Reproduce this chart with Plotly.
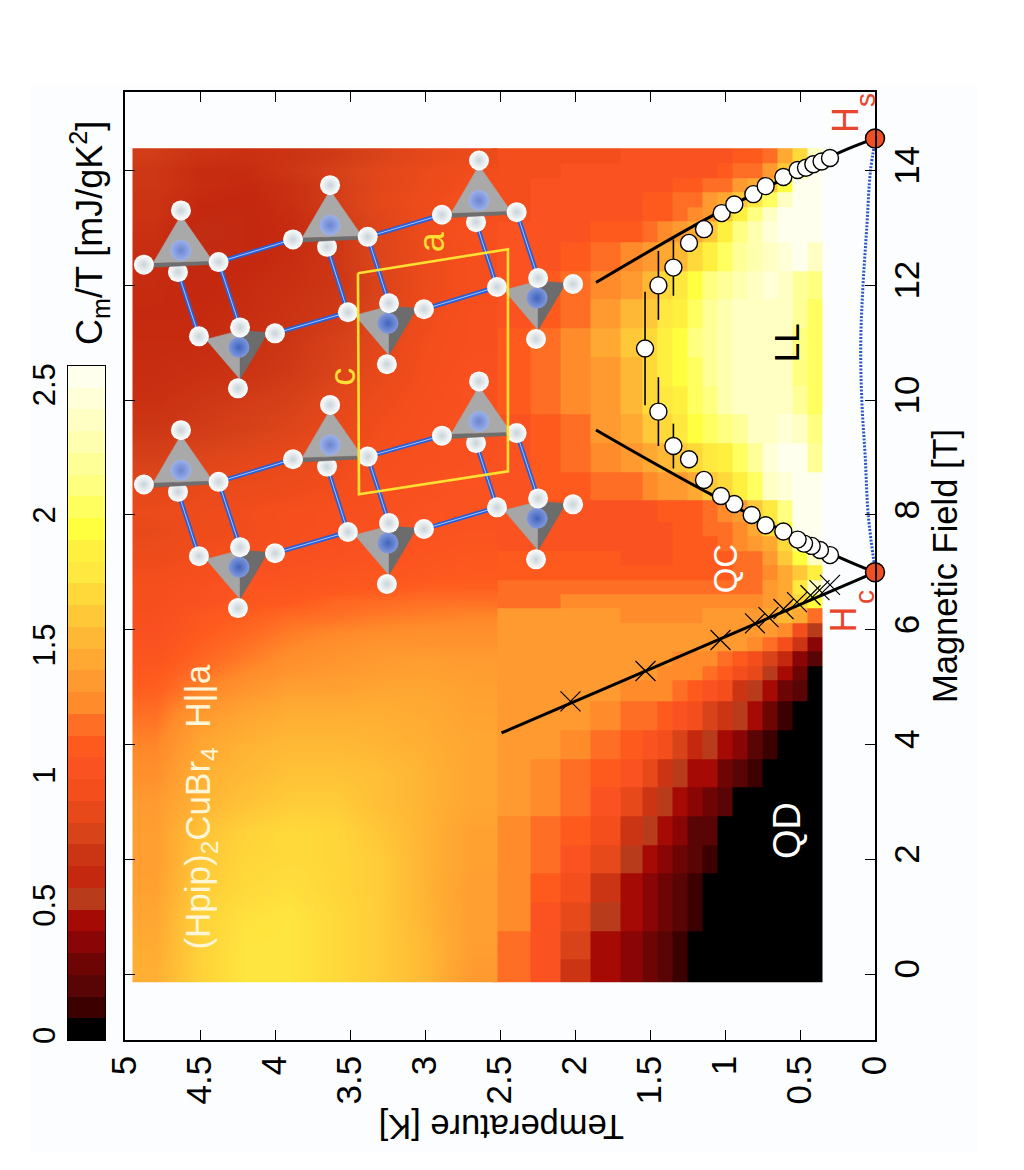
import plotly.graph_objects as go

# ---------- heat map data ----------
T_EDGES = [0.35,0.45,0.55,0.65,0.75,0.85,0.95,1.05,1.15,1.25,1.35,1.45,1.55,1.7,1.9,2.1,2.3,2.55,2.85,3.15,3.45,3.75,4.05,4.35,4.65,4.95]
F_EDGES = [-0.14,0.25,0.75,1.25,1.75,2.25,2.75,3.25,3.75,4.25,4.75,5.12,5.37,5.62,5.87,6.12,6.37,6.62,6.87,7.12,7.37,7.62,7.87,8.25,8.75,9.25,9.75,10.25,10.75,11.25,11.75,12.25,12.75,13.12,13.37,13.62,13.87,14.12,14.39]
# C/T in hundredths of mJ/gK^2, one row per field step, one column per temperature step
CM_ROWS = [
[0,0,0,0,0,0,0,0,0,10,22,30,40,45,75,105,125,138,155,165,172,178,178,168,150],
[0,0,0,0,0,0,0,0,5,12,22,32,40,50,78,105,125,140,155,165,172,178,178,168,148],
[0,0,0,0,0,0,0,0,10,20,28,35,42,55,85,108,128,140,153,165,172,178,176,168,145],
[0,0,0,0,0,0,0,5,12,22,30,38,45,68,95,112,130,140,152,165,170,175,172,165,142],
[0,0,0,0,0,0,0,10,18,28,35,42,52,85,105,118,130,142,152,165,170,172,170,162,140],
[0,0,0,0,0,0,8,18,25,35,42,52,70,100,112,122,132,142,152,162,170,172,168,160,140],
[0,0,0,0,0,8,18,28,38,45,55,72,90,108,118,128,135,145,152,158,165,165,160,152,138],
[0,0,0,0,10,22,32,42,50,55,72,90,105,115,125,132,138,145,152,158,160,160,155,150,132],
[0,0,0,10,22,35,42,52,65,80,95,105,115,125,132,135,140,145,150,153,155,155,152,145,128],
[0,0,12,30,42,52,68,80,92,105,110,118,125,132,135,138,140,143,148,150,150,150,145,138,122],
[0,18,32,48,58,75,92,105,112,122,128,130,132,135,138,140,142,142,145,145,142,142,135,128,115],
[8,28,48,56,85,100,110,118,128,130,132,135,135,138,140,140,140,140,142,140,138,135,130,122,112],
[18,40,60,82,100,115,122,128,130,132,135,135,138,138,140,140,140,138,140,138,135,132,125,118,108],
[35,75,100,120,130,135,135,135,135,135,135,135,135,138,140,140,140,135,135,135,132,128,122,115,105],
[55,100,130,142,142,140,140,138,135,135,135,135,135,138,142,142,140,132,132,130,128,125,118,112,102],
[120,150,155,145,140,138,136,134,132,130,130,130,130,134,136,136,134,128,126,125,122,120,115,110,100],
[200,175,150,135,133,132,130,128,128,128,128,126,126,128,126,125,124,122,122,120,118,112,108,104,98],
[240,180,145,135,125,125,122,120,118,118,118,118,118,118,118,118,118,115,115,112,110,108,108,102,98],
[190,165,145,130,122,118,115,112,110,110,110,110,112,112,112,112,112,112,110,108,108,105,102,98,95],
[240,200,160,135,125,118,114,112,110,110,108,108,108,110,110,110,110,110,108,106,104,102,98,96,92],
[260,215,175,150,135,128,120,115,112,110,108,108,108,108,108,108,108,108,106,104,102,100,96,94,90],
[260,255,195,170,145,132,125,118,112,110,108,108,108,108,108,108,108,106,105,102,100,98,94,92,88],
[260,255,210,180,165,140,130,122,115,112,110,108,108,108,108,108,108,105,105,100,100,98,95,92,90],
[260,255,245,240,205,190,175,160,148,140,135,128,125,120,115,110,108,105,102,100,95,92,90,88,85],
[225,255,255,245,225,205,190,182,175,160,155,145,135,128,120,112,108,102,100,98,92,88,85,82,78],
[210,240,245,240,235,225,215,205,195,180,175,160,148,135,125,115,108,102,100,95,88,82,78,75,72],
[205,220,240,240,240,235,230,215,205,190,180,170,155,140,128,118,110,102,98,92,85,78,75,72,68],
[205,215,235,240,240,240,232,220,208,195,185,172,158,142,130,120,110,102,96,88,80,74,70,68,66],
[205,215,235,240,240,238,232,222,210,198,185,172,160,145,130,120,112,100,95,85,78,72,68,65,65],
[208,218,238,242,240,238,230,218,205,190,178,165,152,138,125,115,108,100,92,82,74,70,66,64,64],
[215,225,240,245,240,232,225,210,200,180,168,155,142,130,120,110,105,98,90,80,72,68,65,62,65],
[240,255,250,240,232,220,205,190,170,155,145,135,128,118,110,105,102,98,90,82,72,66,62,62,66],
[260,260,260,250,232,210,190,165,145,135,128,120,115,110,108,105,102,100,92,82,72,65,62,60,68],
[260,260,260,240,210,185,160,140,128,120,115,110,108,106,105,102,100,98,92,84,75,66,62,62,70],
[260,260,240,205,178,160,148,135,125,118,115,110,108,105,105,102,100,98,92,86,76,68,62,64,70],
[260,260,200,165,145,135,125,118,112,110,108,108,106,105,104,102,100,96,90,84,76,68,64,66,72],
[260,215,165,140,125,118,112,108,108,108,106,106,105,104,102,100,98,95,90,85,78,72,65,65,72],
[240,175,145,125,115,110,108,106,105,105,104,102,102,100,98,96,92,90,86,80,74,70,68,70,75],
]
# colour bands of the colour bar, bottom to top
BANDS = ["#000000","#3c0000","#5a0505","#6e0505","#8a0505","#a50a05","#b83c1c","#c4280f","#cc3514","#d9431a",
         "#e8491a","#f44e1c","#fa5220","#fe5a1e","#ff6e24","#ff8b2a","#ff9a30","#ffa832","#ffb835","#ffc838",
         "#ffd83a","#ffe840","#fff040","#ffff40","#ffff60","#ffff80","#ffff98","#ffffb0","#ffffc4","#ffffd8","#ffffee"]
CB_TOP = 2.59
SMOOTH_FROM = 17   # temperature columns from this index on are drawn with smoothed cells
SEAM_OVERLAP = 0.03

# ---------- phase boundaries ----------
CROSS_T = [2.03,1.53,1.03,0.80,0.71,0.61,0.52,0.43,0.37,0.30]
CROSS_F = [4.75,5.28,5.82,6.11,6.22,6.36,6.48,6.60,6.69,6.78]
LINE_HC_T = [2.49,0.0]
LINE_HC_F = [4.20,7.0]
LEFT_T = [1.86,1.08,0.23,0.0]
LEFT_F = [9.48,8.34,7.25,7.0]
RIGHT_T = [1.86,1.08,0.25,0.0]
RIGHT_F = [12.05,13.22,14.30,14.56]
CIRC_T = [0.30,0.367,0.422,0.473,0.516,0.611,0.729,0.822,0.938,1.027,1.14,1.24,1.344,1.444,1.533,1.444,1.344,1.24,1.14,1.022,0.938,0.811,0.729,0.611,0.516,0.46,0.411,0.356,0.30]
CIRC_F = [7.30,7.39,7.46,7.50,7.57,7.71,7.82,8.0,8.19,8.33,8.61,8.97,9.2,9.8,10.9,12.0,12.31,12.74,12.98,13.26,13.41,13.59,13.73,13.89,14.01,14.05,14.11,14.16,14.22]
CIRC_ERR = [0,0,0,0,0,0,0,0,0,0,0,0,0.39,0.6,0.99,0.6,0.49,0,0,0,0,0,0,0,0,0,0,0,0]
DOME_T = [0.0,0.045,0.065,0.088,0.095,0.08,0.055,0.03,0.0]
DOME_F = [7.05,8,9,10,11,12,13,14,14.5]
QCP_T = [0.0,0.0]
QCP_F = [7.0,14.56]

# ---------- crystal inset (temperature, field coordinates) ----------
T1_T = [4.627,3.633,2.64,4.627,3.633,2.64]
T1_F = [12.61,13.05,13.48,8.78,9.22,9.63]
T2_T = [4.24,3.247,2.253,4.24,3.247,2.253]
T2_F = [10.92,11.34,11.78,7.09,7.51,7.94]
T1_APEX, T1_LEFT, T1_RIGHT, T1_HID = (0,0.697), (0.247,-0.249), (-0.251,-0.204), (0.02,-0.378)
T1_FACE = [(0,0.61),(0.187,-0.226),(-0.213,-0.192)]
T1_STRIP = [(0.187,-0.226),(-0.213,-0.192),(-0.213,-0.244),(0.187,-0.296)]
T2_LEFT, T2_TOP, T2_RIGHT, T2_BOT = (0.267,0.192), (-0.007,0.348), (-0.24,0.244), (0.007,-0.714)
T2_FACE = [(0.22,0.139),(-0.007,0.296),(-0.007,-0.557)]
T2_DARK = [(-0.007,0.296),(-0.193,0.261),(-0.007,-0.557)]
BOX_T = [3.447,2.447,2.447,3.44,3.447]
BOX_F = [12.21,12.63,8.76,8.36,12.21]

T_TICKS = [0,0.5,1,1.5,2,2.5,3,3.5,4,4.5,5]
T_LABELS = ["0","0.5","1","1.5","2","2.5","3","3.5","4","4.5","5"]
F_TICKS = [0,2,4,6,8,10,12,14]
F_LABELS = ["0","2","4","6","8","10","12","14"]
CB_TICKS = [0,0.5,1,1.5,2,2.5]
CB_LABELS = ["0","0.5","1","1.5","2","2.5"]

FONT = "Liberation Sans"
W, H = 1024, 1170

n = len(BANDS)
scale = []
for i, c in enumerate(BANDS):
    scale += [[i / n, c], [(i + 1) / n, c]]
soft = [[0, BANDS[0]]] + [[(i + 0.5) / n, c] for i, c in enumerate(BANDS)] + [[1, BANDS[-1]]]

Z = [[v / 100 for v in r] for r in CM_ROWS]
fig = go.Figure()
fig.add_trace(go.Heatmap(x=T_EDGES[:SMOOTH_FROM + 1], y=F_EDGES, z=[r[:SMOOTH_FROM] for r in Z],
                         zmin=0, zmax=CB_TOP, colorscale=scale, showscale=False, hoverinfo="skip"))
fig.add_trace(go.Heatmap(x=[T_EDGES[SMOOTH_FROM] - SEAM_OVERLAP] + T_EDGES[SMOOTH_FROM + 1:], y=F_EDGES,
                         z=[r[SMOOTH_FROM:] for r in Z], zsmooth="best",
                         zmin=0, zmax=CB_TOP, colorscale=soft, showscale=False, hoverinfo="skip"))
fig.add_trace(go.Heatmap(x=[0, 1], y=[i * CB_TOP / n for i in range(n + 1)],
                         z=[[(i + 0.5) * CB_TOP / n] for i in range(n)],
                         zmin=0, zmax=CB_TOP, colorscale=scale, showscale=False,
                         xaxis="x2", yaxis="y2", hoverinfo="skip"))

def at(t, f, off):
    return t + off[0], f + off[1]

def poly(ts, fs, pts):
    xs, ys = [], []
    for t, f in zip(ts, fs):
        for p in pts + [pts[0]]:
            x, y = at(t, f, p)
            xs.append(x); ys.append(y)
        xs.append(None); ys.append(None)
    return xs, ys

def points(ts, fs, off):
    xy = [at(t, f, off) for t, f in zip(ts, fs)]
    return [a for a, _ in xy], [b for _, b in xy]

# bonds
bx, by = [], []
def bond(a, b):
    bx.extend([a[0], b[0], None]); by.extend([a[1], b[1], None])
for row in (0, 3):
    for c in range(3):
        i = row + c
        bond(at(T1_T[i], T1_F[i], T1_HID), at(T2_T[i], T2_F[i], T2_LEFT))
        bond(at(T1_T[i], T1_F[i], T1_RIGHT), at(T2_T[i], T2_F[i], T2_TOP))
        if c < 2:
            bond(at(T1_T[i], T1_F[i], T1_RIGHT), at(T1_T[i+1], T1_F[i+1], T1_LEFT))
            bond(at(T2_T[i], T2_F[i], T2_RIGHT), at(T2_T[i+1], T2_F[i+1], T2_LEFT))
fig.add_trace(go.Scatter(x=bx, y=by, mode="lines", line=dict(color="#2b5fd6", width=4.5), hoverinfo="skip"))
fig.add_trace(go.Scatter(x=bx, y=by, mode="lines", line=dict(color="#a9c2f2", width=1), hoverinfo="skip"))

def atoms(xs, ys, size=20, c="#ffffff", edge="#c8d3d8"):
    fig.add_trace(go.Scatter(x=xs, y=ys, mode="markers", hoverinfo="skip", cliponaxis=False,
                             marker=dict(size=size, color=c, line=dict(width=0),
                                         gradient=dict(type="radial", color=edge))))

def face(pts, ts, fs, color):
    xs, ys = poly(ts, fs, pts)
    fig.add_trace(go.Scatter(x=xs, y=ys, mode="lines", fill="toself", fillcolor=color,
                             line=dict(color=color, width=0.5), hoverinfo="skip"))

hx, hy = points(T1_T, T1_F, T1_HID)
atoms(hx, hy)
face(T1_FACE, T1_T, T1_F, "#a9a9a9")
face(T1_STRIP, T1_T, T1_F, "#6e6e6e")
face(T2_FACE, T2_T, T2_F, "#a6a6a6")
face(T2_DARK, T2_T, T2_F, "#6c6c6c")
atoms(T1_T, T1_F, 21, "#9db2ea", "#6a84d0")
atoms(T2_T, T2_F, 21, "#8199dd", "#3f63bc")
for off in (T1_APEX, T1_LEFT, T1_RIGHT):
    x, y = points(T1_T, T1_F, off); atoms(x, y)
for off in (T2_LEFT, T2_TOP, T2_RIGHT, T2_BOT):
    x, y = points(T2_T, T2_F, off); atoms(x, y)
fig.add_trace(go.Scatter(x=BOX_T, y=BOX_F, mode="lines", line=dict(color="#ffe033", width=2.6), hoverinfo="skip"))

# phase boundaries
fig.add_trace(go.Scatter(x=DOME_T, y=DOME_F, mode="lines", line=dict(color="#2a58c8", width=3, dash="2px,1.5px"),
                         line_shape="spline", cliponaxis=False, hoverinfo="skip"))
for xs, ys in ((LINE_HC_T, LINE_HC_F), (LEFT_T, LEFT_F), (RIGHT_T, RIGHT_F)):
    fig.add_trace(go.Scatter(x=xs, y=ys, mode="lines", line=dict(color="#000000", width=3), line_shape="spline",
                             cliponaxis=False, hoverinfo="skip"))
fig.add_trace(go.Scatter(x=CROSS_T, y=CROSS_F, mode="markers", hoverinfo="skip",
                         marker=dict(symbol="x-thin", size=20, color="#000000", line=dict(width=1.2, color="#000000"))))
fig.add_trace(go.Scatter(x=CIRC_T, y=CIRC_F, mode="markers", hoverinfo="skip",
                         error_y=dict(type="data", array=CIRC_ERR, width=0, thickness=1.6, color="#000000"),
                         marker=dict(size=17, color="#ffffff", line=dict(width=1.4, color="#000000"))))
fig.add_trace(go.Scatter(x=QCP_T, y=QCP_F, mode="markers", cliponaxis=False, hoverinfo="skip",
                         marker=dict(size=19, color="#f04e23", line=dict(width=1.5, color="#000000"))))

def label(x, y, text, size, color, angle=-90, xref="x", yref="y"):
    fig.add_annotation(x=x, y=y, xref=xref, yref=yref, text=text, showarrow=False, textangle=angle,
                       xanchor="center", yanchor="middle",
                       font=dict(family=FONT, size=size, color=color))

label(0.59, 2.5, "QD", 38, "#ffffff")
label(0.59, 11.0, "LL", 35, "#000000")
label(1.0, 7.07, "QC", 33, "#ffffff")
label(2.96, 12.75, "a", 36, "#ffdf33")
label(3.55, 10.4, "c", 36, "#ffdf33")
label(4.5, 2.9, "(Hpip)<sub>2</sub>CuBr<sub>4</sub>  H||a", 35, "#fff6d8")
label(0.21, 6.17, "H", 36, "#e8452c")
label(0.067, 6.57, "c", 28, "#e8452c")
label(0.2, 14.88, "H", 36, "#e8452c")
label(0.067, 15.23, "s", 28, "#e8452c")
label(945 / W, 1 - 566 / H, "Magnetic Field [T]", 34.5, "#000000", -90, "paper", "paper")
label(502 / W, 1 - 1127 / H, "Temperature [K]", 34.5, "#000000", 180, "paper", "paper")
label(90 / W, 1 - 233 / H, "C<sub>m</sub>/T [mJ/gK<sup>2</sup>]", 36, "#000000", -90, "paper", "paper")

axis = dict(showline=True, linecolor="#000000", linewidth=1.6, mirror="allticks", ticks="inside", ticklen=10,
            tickwidth=1.3, tickcolor="#000000", showgrid=False, zeroline=False, tickangle=-90,
            tickfont=dict(family=FONT, size=35, color="#000000"))
fig.update_layout(
    width=W, height=H, margin=dict(l=0, r=0, t=0, b=0, autoexpand=False), showlegend=False,
    paper_bgcolor="#ffffff", plot_bgcolor="#fdfefe",
    xaxis=dict(axis, domain=[125 / W, 875 / W], range=[5, 0], tickvals=T_TICKS, ticktext=T_LABELS, anchor="y"),
    yaxis=dict(axis, domain=[1 - 1040 / H, 1 - 92 / H], range=[-1.15, 15.37], tickvals=F_TICKS, ticktext=F_LABELS,
               side="right", anchor="x"),
    xaxis2=dict(domain=[68 / W, 105 / W], range=[0, 1], anchor="y2", showticklabels=False, ticks="",
                showline=True, linecolor="#000000", linewidth=1.2, mirror=True, showgrid=False, zeroline=False),
    yaxis2=dict(domain=[1 - 1040 / H, 1 - 366 / H], range=[0, CB_TOP], anchor="x2", side="left", tickvals=CB_TICKS,
                ticktext=CB_LABELS, ticks="", tickangle=-90, showline=True, linecolor="#000000", linewidth=1.2,
                mirror=True, showgrid=False, zeroline=False,
                tickfont=dict(family=FONT, size=31, color="#000000")),
    shapes=[dict(type="rect", xref="paper", yref="paper", layer="below", x0=30 / W, x1=978 / W,
                 y0=1 - 1152 / H, y1=1 - 85 / H, fillcolor="#fbfdfe", line=dict(width=0))],
)
fig.write_html("out.html", config=dict(displayModeBar=False), post_script="document.body.style.margin='0';")
